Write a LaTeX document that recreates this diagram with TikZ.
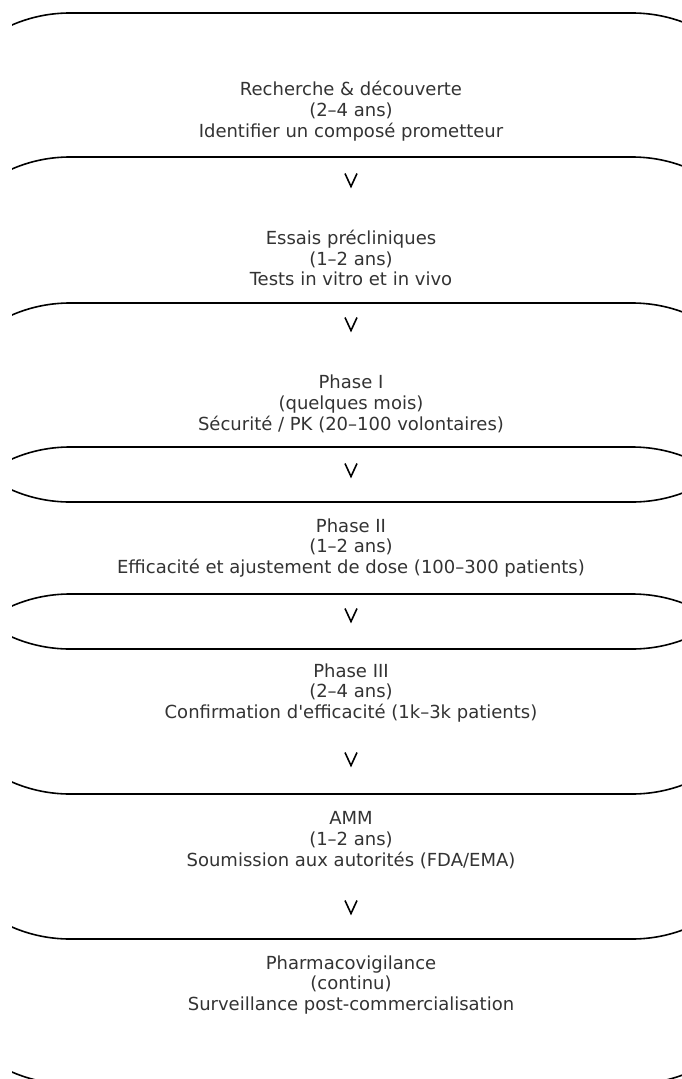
\documentclass[tikz,border=0pt]{standalone}
\usepackage{fontspec}
\newfontfamily\dejavu{DejaVu Sans}
\definecolor{textgray}{HTML}{333333}
\begin{document}
\begin{tikzpicture}[x=1pt,y=-1pt,
  stage/.style={align=center, font=\dejavu\fontsize{18}{20.8}\selectfont, text=textgray, inner sep=0pt},
  band/.style={draw=black, line width=1.6pt, rounded corners=146pt},
  flowtip/.style={draw=black, line width=1.6pt, line join=miter}]
\useasboundingbox (0,0) rectangle (682,1079);
\fill[white] (0,0) rectangle (682,1079);
\begin{scope}
  \clip (12,-5) rectangle (700,1090);
  \draw[band] (-76,13) rectangle (778,502);
  \draw[band] (-76,157) rectangle (778,649);
  \draw[band] (-76,303) rectangle (778,794);
  \draw[band] (-76,447) rectangle (778,939);
  \draw[band] (-76,594) rectangle (778,1084);
\end{scope}
\node[stage] (s1) at (351,111) {Recherche \& découverte\\(2–4 ans)\\Identifier un composé prometteur};
\node[stage] (s2) at (351,258) {Essais précliniques\\(1–2 ans)\\Tests in vitro et in vivo};
\node[stage] (s3) at (351,404) {Phase I\\(quelques mois)\\Sécurité / PK (20–100 volontaires)};
\node[stage] (s4) at (351,548) {Phase II\\(1–2 ans)\\Efficacité et ajustement de dose (100–300 patients)};
\node[stage] (s5) at (351,693) {Phase III\\(2–4 ans)\\Confirmation d'efficacité (1k–3k patients)};
\node[stage] (s6) at (351,840) {AMM\\(1–2 ans)\\Soumission aux autorités (FDA/EMA)};
\node[stage] (s7) at (351,985) {Pharmacovigilance\\(continu)\\Surveillance post-commercialisation};
\foreach \n/\yy in {1/180,2/324,3/470,4/615,5/759,6/907}{
  \coordinate (v\n) at (351,\yy);
  \draw[flowtip] (v\n) ++(-6,-6.5) -- ++(6,13) -- ++(6,-13);
}
\end{tikzpicture}
\end{document}
